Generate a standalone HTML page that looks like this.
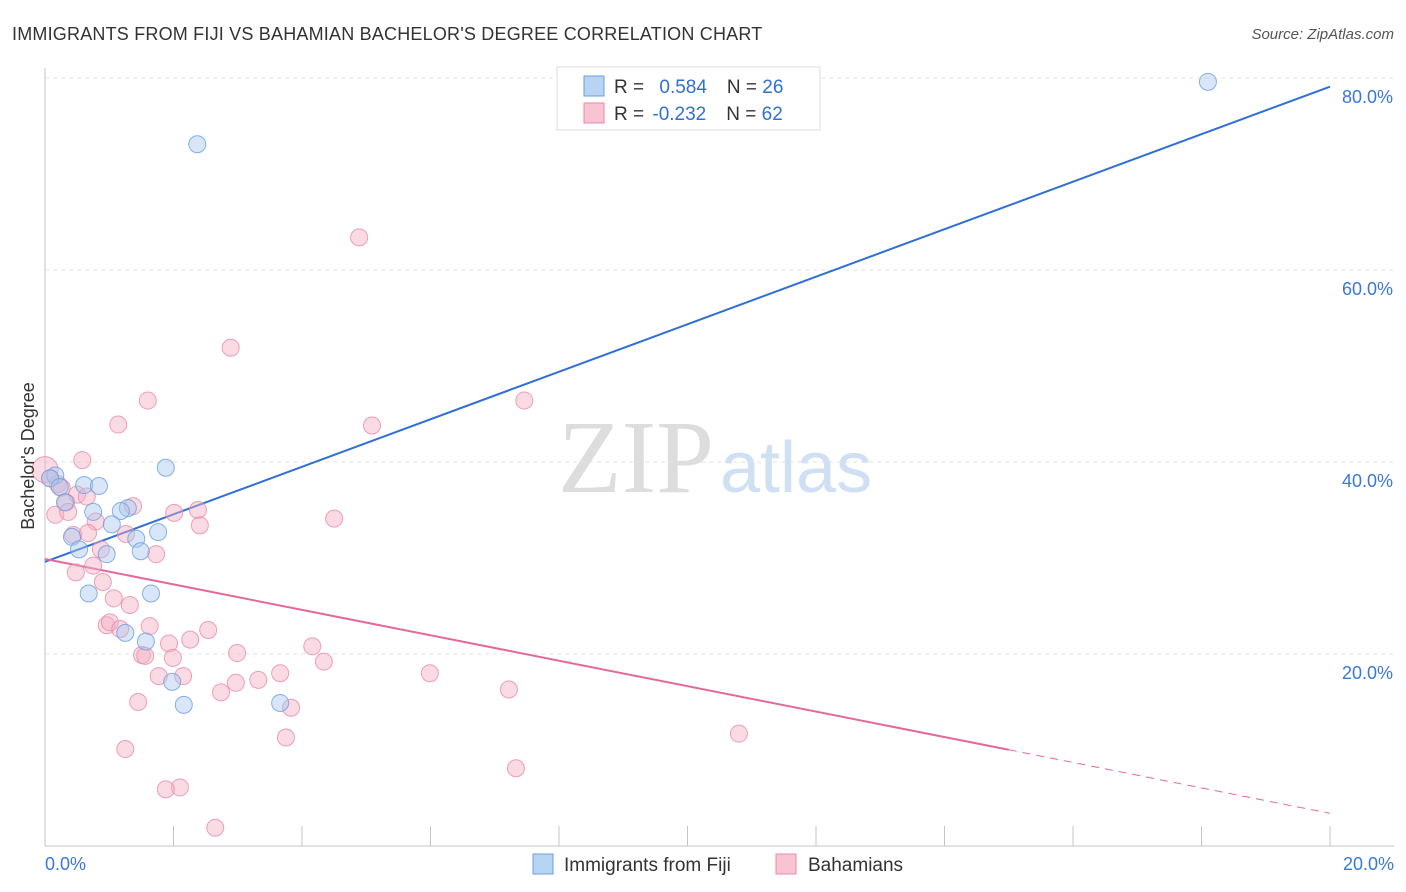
<!DOCTYPE html>
<html><head><meta charset="utf-8"><style>
body{margin:0;background:#fff;font-family:"Liberation Sans",sans-serif;}
svg{display:block}
</style></head><body>
<svg id="chart" width="1406" height="892">
<text x="12" y="40" font-size="18" fill="#333" letter-spacing="0.2">IMMIGRANTS FROM FIJI VS BAHAMIAN BACHELOR'S DEGREE CORRELATION CHART</text>
<text x="1394" y="39" font-size="15" fill="#555" text-anchor="end" font-style="italic">Source: ZipAtlas.com</text>
<text x="714" y="492" font-size="104" fill="#ddd" text-anchor="end" font-family="Liberation Serif,serif">ZIP</text>
<text x="720" y="492" font-size="72" fill="#cfe0f5">atlas</text>
<g id="grid"></g><g id="axes"></g><g id="lines"></g><g id="pts"></g>
<text transform="translate(34,456) rotate(-90)" font-size="18" fill="#333" text-anchor="middle">Bachelor's Degree</text>
<g>
<rect x="557" y="67" width="263" height="63" fill="#fff" stroke="#ddd"/>
<rect x="584" y="76" width="20" height="20" fill="#b9d3f3" stroke="#6a9ee0"/>
<rect x="584" y="103" width="20" height="20" fill="#f8c4d3" stroke="#e88aa8"/>
<text x="614" y="93" font-size="19" fill="#333">R = <tspan fill="#2f6fd6" dx="10">0.584</tspan><tspan dx="20" fill="#333">N = </tspan><tspan fill="#2f6fd6">26</tspan></text>
<text x="614" y="120" font-size="19" fill="#333">R = <tspan fill="#2f6fd6" dx="3">-0.232</tspan><tspan dx="20" fill="#333">N = </tspan><tspan fill="#2f6fd6">62</tspan></text>
</g>
<g>
<rect x="533" y="854" width="20" height="20" fill="#b9d3f3" stroke="#6a9ee0"/>
<text x="564" y="871" font-size="19" fill="#333">Immigrants from Fiji</text>
<rect x="776" y="854" width="20" height="20" fill="#f8c4d3" stroke="#e88aa8"/>
<text x="808" y="871" font-size="19" fill="#333">Bahamians</text>
</g>
</svg>
<script>
const xTicks=[0,20];
const yTicks=[20,40,60,80];
const fijiX=[18.10,2.37,1.88,0.16,0.08,0.61,0.84,0.23,0.31,1.29,1.18,0.75,1.04,1.76,0.42,1.42,0.53,0.96,1.49,0.68,1.65,1.25,1.57,1.98,2.16,3.66];
const fijiY=[79.6,73.1,39.4,38.6,38.3,37.6,37.5,37.4,35.8,35.2,34.9,34.8,33.5,32.7,32.2,32.0,30.9,30.4,30.7,26.3,26.3,22.2,21.3,17.1,14.7,14.9];
const bahX=[4.89,2.89,1.60,7.46,1.14,5.09,0.58,0.0,0.08,0.20,0.26,0.50,0.65,0.33,1.37,2.01,2.38,0.16,0.36,0.79,4.50,2.41,0.44,1.26,0.67,0.87,1.73,0.75,0.48,0.90,1.07,1.32,1.63,0.96,1.01,1.17,2.54,2.26,1.93,4.16,1.51,1.56,2.99,1.99,4.34,3.66,5.99,1.77,2.15,3.32,2.97,2.74,7.22,1.45,3.83,3.75,10.80,1.25,7.33,2.10,1.88,2.65];
const bahY=[63.4,51.9,46.4,46.4,43.9,43.8,40.2,39.2,38.3,37.7,37.3,36.6,36.4,35.8,35.4,34.7,35.0,34.5,34.8,33.8,34.1,33.4,32.4,32.5,32.6,30.9,30.4,29.2,28.5,27.5,25.8,25.1,22.9,23.0,23.3,22.6,22.5,21.5,21.1,20.8,19.9,19.8,20.1,19.6,19.2,18.0,18.0,17.7,17.7,17.3,17.0,16.0,16.3,15.0,14.4,11.3,11.7,10.1,8.1,6.1,5.9,1.9];
const fijiFit=[29.6,79.1];
const bahFit=[29.9,3.4];
const bahSolidEnd=15.0;
const NS="http://www.w3.org/2000/svg";
const X=v=>45+v/20*1285, Y=v=>846-v*9.6;
function mk(p,t,a){const e=document.createElementNS(NS,t);for(const k in a)e.setAttribute(k,a[k]);document.getElementById(p).appendChild(e);return e;}
yTicks.forEach(v=>{
 const g=mk('grid','line',{x1:45,x2:1394,y1:Y(v),y2:Y(v),stroke:'#e3e3e3','stroke-dasharray':'4,4'});
 
 
 const t=mk('grid','text',{x:1393,y:Y(v)+25,'font-size':18,fill:'#3a78d6','text-anchor':'end'});t.textContent=v.toFixed(1)+'%';
 
 
});
const ax=mk('axes','line',{x1:45,x2:1394,y1:846,y2:846,stroke:'#c4c4c4'});


const ay=mk('axes','line',{x1:45,x2:45,y1:68,y2:846,stroke:'#c4c4c4'});


for(let i=1;i<=10;i++){const tk=mk('axes','line',{x1:X(i*2),x2:X(i*2),y1:826,y2:846,stroke:'#c4c4c4'});
 
 }
xTicks.forEach((v,i)=>{const t=mk('axes','text',{x:i?1394:45,y:870,'font-size':18,fill:'#3a78d6','text-anchor':i?'end':'start'});t.textContent=v.toFixed(1)+'%';
 
 });
function drawPts(xs,ys,fill,stroke,name){xs.forEach((x,i)=>{const c=mk('pts','circle',{cx:X(x),cy:Y(ys[i]),r:(i==7&&name=='bahamian-point')?13:8.5,fill:fill,'fill-opacity':0.45,stroke:stroke,'stroke-opacity':0.8,'stroke-width':1});
 
 });}
drawPts(bahX,bahY,'#f5b0c4','#e88aa8','bahamian-point');
drawPts(fijiX,fijiY,'#a9c8f0','#6a9ee0','fiji-point');
const bl=mk('lines','line',{x1:X(0),y1:Y(fijiFit[0]),x2:X(20),y2:Y(fijiFit[1]),stroke:'#2f6fd6','stroke-width':2});


const by=v=>bahFit[0]+(bahFit[1]-bahFit[0])*v/20;
const pl=mk('lines','line',{x1:X(0),y1:Y(by(0)),x2:X(bahSolidEnd),y2:Y(by(bahSolidEnd)),stroke:'#e4699a','stroke-width':2});


const pd=mk('lines','line',{x1:X(bahSolidEnd),y1:Y(by(bahSolidEnd)),x2:X(20),y2:Y(by(20)),stroke:'#e4699a','stroke-width':1,'stroke-dasharray':'8,6'});


</script>
</body></html>
